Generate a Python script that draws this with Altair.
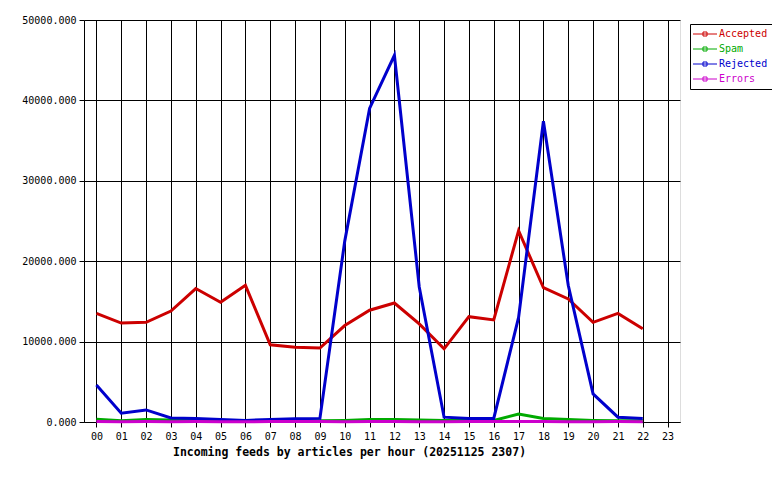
import altair as alt
import pandas as pd

hours = [f"{h:02d}" for h in range(24)]
series = ["Accepted", "Spam", "Rejected", "Errors"]
colors = ["#cc0000", "#00aa00", "#0000cc", "#cc00cc"]

accepted = [13500, 12300, 12400, 13800, 16600, 14900, 17000, 9600, 9300, 9200, 12000, 13900,
            14800, 12200, 9100, 13100, 12700, 23800, 16700, 15300, 12400, 13500, 11600]
spam = [350, 150, 300, 250, 200, 150, 100, 150, 150, 150, 200, 300,
        300, 250, 200, 200, 200, 1000, 450, 300, 200, 150, 150]
rejected = [4600, 1100, 1500, 500, 450, 300, 200, 300, 400, 450, 22500, 39000,
            45600, 16800, 600, 450, 450, 13000, 37400, 17000, 3500, 600, 450]
errors = [50, 40, 50, 40, 50, 40, 40, 50, 50, 50, 40, 50,
          50, 40, 40, 50, 50, 60, 50, 40, 40, 50, 40]

rows = []
for name, vals in zip(series, [accepted, spam, rejected, errors]):
    for h, v in zip(hours, vals):
        rows.append({"hour": h, "series": name, "value": v})
df = pd.DataFrame(rows)

mono = "DejaVu Sans Mono"
label_color = ("datum.value == 'Accepted' ? '#cc0000' : datum.value == 'Spam' ? '#00aa00' : "
               "datum.value == 'Rejected' ? '#0000cc' : '#cc00cc'")

chart = alt.Chart(df).mark_line(strokeWidth=3).encode(
    x=alt.X("hour:O", scale=alt.Scale(domain=hours, type="point", padding=0.5),
            axis=alt.Axis(title="Incoming feeds by articles per hour (20251125 2307)",
                          labelAngle=0, labelFont=mono, labelFontSize=10, labelColor="black",
                          labelPadding=4, tickColor="black", tickSize=5, domainColor="black",
                          grid=True, gridColor="black", gridOpacity=1, gridWidth=1,
                          titleFont=mono, titleFontSize=11.5, titleFontWeight="bold",
                          titleColor="black", titleX=265, titleY=30, titleAlign="center",
                          titleBaseline="middle")),
    y=alt.Y("value:Q", scale=alt.Scale(domain=[0, 50000], nice=False),
            axis=alt.Axis(title=None, values=[0, 10000, 20000, 30000, 40000, 50000],
                          format=".3f", labelFont=mono, labelFontSize=10, labelColor="black",
                          labelPadding=3, tickColor="black", tickSize=5, domainColor="black",
                          grid=True, gridColor="black", gridOpacity=1, gridWidth=1)),
    color=alt.Color("series:N", scale=alt.Scale(domain=series, range=colors),
                    sort=series,
                    legend=alt.Legend(orient="none", legendX=606, legendY=4, title=None,
                                      fillColor="white", strokeColor="black", padding=5,
                                      symbolType="M-3,0L3,0M-0.5,-0.5L0.5,-0.5L0.5,0.5L-0.5,0.5Z",
                                      symbolSize=64, symbolStrokeWidth=1, symbolOffset=5,
                                      symbolFillColor="white",
                                      labelOffset=9, labelFont=mono, labelFontSize=10,
                                      labelColor=alt.ExprRef(expr=label_color),
                                      rowPadding=5, cornerRadius=0)),
    order=alt.Order("hour:O"),
).properties(
    width=596, height=402,
    autosize=alt.AutoSizeParams(type="none"),
    padding={"left": 76, "top": 12, "right": 92, "bottom": 50},
).configure_view(
    fill="#e0e0e0", stroke="black", strokeWidth=1
).configure(background="white")

chart.save("out.html", embed_options={"renderer": "svg", "actions": False})
